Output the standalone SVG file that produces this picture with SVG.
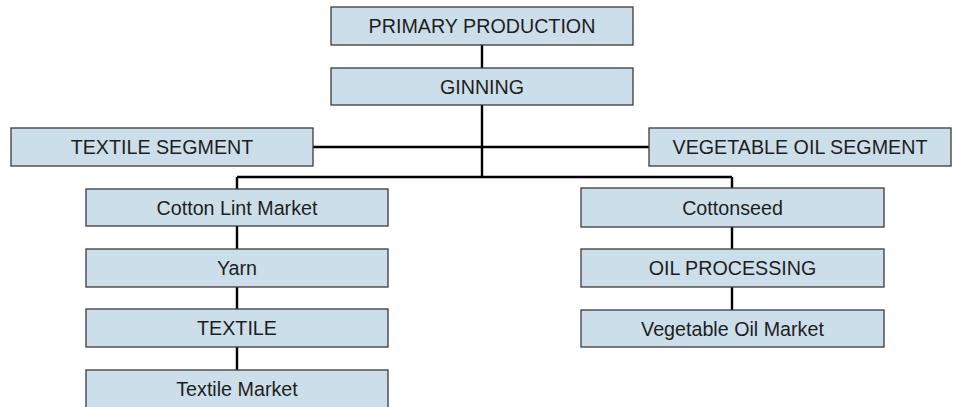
<svg xmlns="http://www.w3.org/2000/svg" width="953" height="407" viewBox="0 0 953 407">
<style>
.box{fill:#cddeeb;stroke:#3a3a3a;stroke-width:1.3}
.lbl{font-family:"Liberation Sans",Arial,sans-serif;font-size:19.7px;fill:#1e1e1e;text-anchor:middle}
.con{stroke:#000;stroke-width:2.4;fill:none}
</style>
<rect width="953" height="407" fill="#fff"/>
<g id="connectors">
<path class="con" d="M482,45V68M482,105V177M313,147H649M237,177H732M237,177V189M732,177V188M237,226V249M237,287V309M237,347V370M732,227V249M732,287V310"/>
</g>
<g id="primary"><rect class="box" x="331" y="7" width="302" height="38"/><text class="lbl" x="482" y="33">PRIMARY PRODUCTION</text></g>
<g id="ginning"><rect class="box" x="331" y="68" width="302" height="37"/><text class="lbl" x="482" y="93.5">GINNING</text></g>
<g id="textile-segment"><rect class="box" x="11" y="128" width="302" height="38"/><text class="lbl" x="162" y="154">TEXTILE SEGMENT</text></g>
<g id="vegoil-segment"><rect class="box" x="649" y="128" width="302" height="38"/><text class="lbl" x="800" y="154">VEGETABLE OIL SEGMENT</text></g>
<g id="cotton-lint"><rect class="box" x="86" y="189" width="302" height="37"/><text class="lbl" x="237" y="214.5">Cotton Lint Market</text></g>
<g id="yarn"><rect class="box" x="86" y="249" width="302" height="38"/><text class="lbl" x="237" y="275">Yarn</text></g>
<g id="textile"><rect class="box" x="86" y="309" width="302" height="38"/><text class="lbl" x="237" y="335">TEXTILE</text></g>
<g id="textile-market"><rect class="box" x="86" y="370" width="302" height="38"/><text class="lbl" x="237" y="396">Textile Market</text></g>
<g id="cottonseed"><rect class="box" x="581" y="188" width="303" height="39"/><text class="lbl" x="732.5" y="214.5">Cottonseed</text></g>
<g id="oil-processing"><rect class="box" x="581" y="249" width="303" height="38"/><text class="lbl" x="732.5" y="275">OIL PROCESSING</text></g>
<g id="vegoil-market"><rect class="box" x="581" y="310" width="303" height="37"/><text class="lbl" x="732.5" y="335.5">Vegetable Oil Market</text></g>
</svg>
